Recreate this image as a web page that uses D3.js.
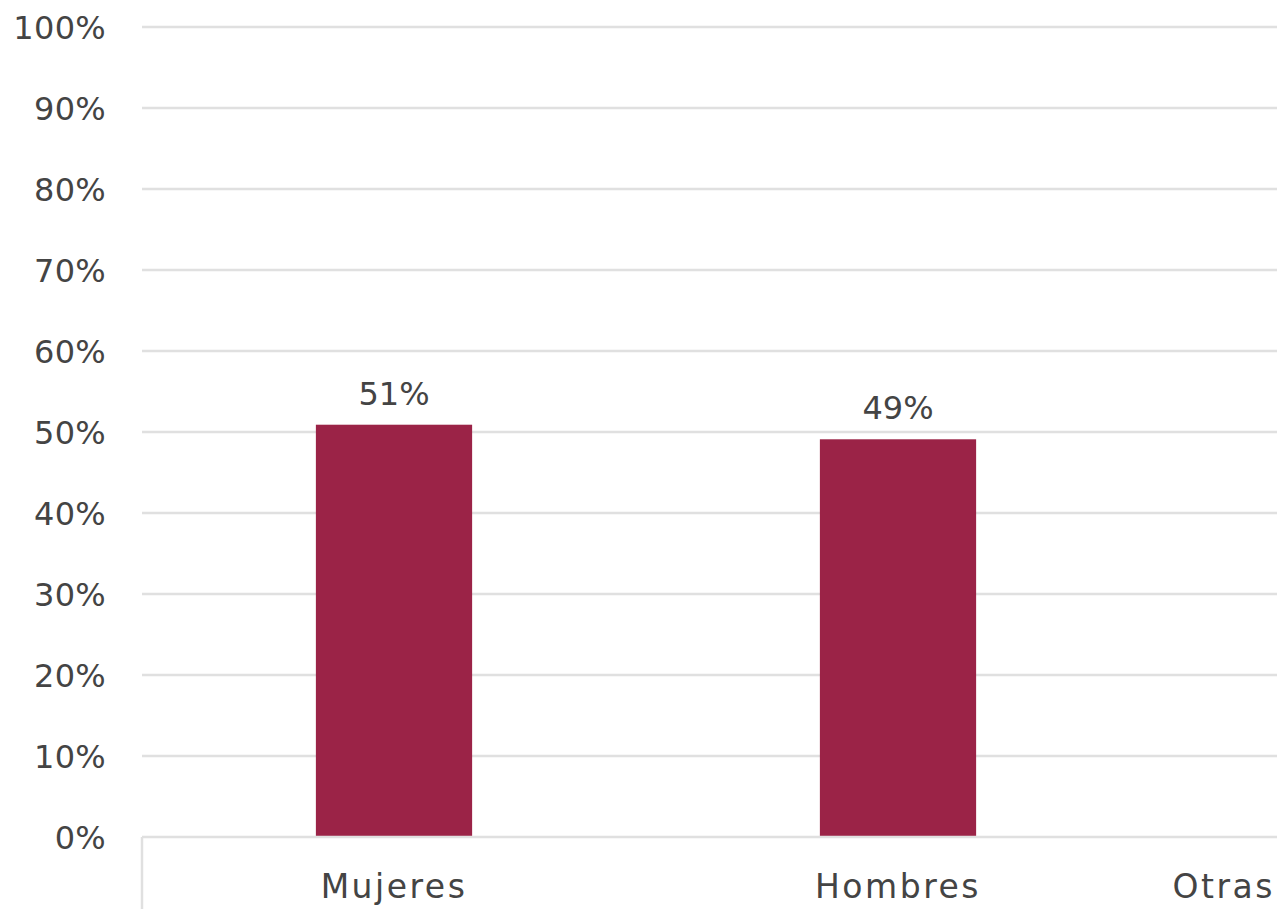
<!DOCTYPE html>
<html><head><meta charset="utf-8">
<script src="https://cdn.jsdelivr.net/npm/d3@7"></script>
<style>html,body{margin:0;padding:0;background:#fff;overflow:hidden}svg{display:block}</style>
</head><body>
<script>
const categories = ["Mujeres", "Hombres", "Otras"];
const values = [0.509, 0.491, 0];
const valueLabels = ["51%", "49%", ""];
const yTicks = [0, 0.1, 0.2, 0.3, 0.4, 0.5, 0.6, 0.7, 0.8, 0.9, 1];

const W = 1277, H = 909;
const font = "'DejaVu Sans', sans-serif";
const textColor = "#444";
const svg = d3.select("body").append("svg").attr("width", W).attr("height", H);

const x = d3.scaleBand().domain(categories).range([142, 142 + 3 * 504]).paddingInner(0.69).paddingOuter(0.345);
const y = d3.scaleLinear().domain([0, 1]).range([837, 27]);

// gridlines
svg.append("g").selectAll("line").data(yTicks.filter(d => d > 0)).join("line")
  .attr("x1", 142).attr("x2", W).attr("y1", d => y(d)).attr("y2", d => y(d))
  .attr("stroke", "#e0e0e0").attr("stroke-width", 2.5);

// y axis labels
const yAxis = d3.axisLeft(y).tickValues(yTicks).tickFormat(d3.format(".0%")).tickSize(0).tickPadding(0);
const ga = svg.append("g").attr("transform", "translate(106,0)").call(yAxis);
ga.select(".domain").remove();
ga.selectAll("text").attr("font-family", font).attr("font-size", 32).attr("letter-spacing", 0.3)
  .attr("fill", textColor).attr("dy", "0.35em");

// bars
svg.append("g").selectAll("rect").data(values).join("rect")
  .attr("x", (d, i) => x(categories[i])).attr("width", x.bandwidth())
  .attr("y", d => y(d)).attr("height", d => y(0) - y(d))
  .attr("fill", "#9b2347");

// value labels
svg.append("g").selectAll("text").data(values).join("text")
  .attr("x", (d, i) => x(categories[i]) + x.bandwidth() / 2)
  .attr("y", d => y(d) - 20)
  .attr("text-anchor", "middle").attr("font-family", font).attr("font-size", 32).attr("fill", textColor)
  .text((d, i) => valueLabels[i]);

// x axis line + left edge
svg.append("line").attr("x1", 142).attr("x2", W).attr("y1", 837).attr("y2", 837).attr("stroke", "#e0e0e0").attr("stroke-width", 2.5);
svg.append("line").attr("x1", 142).attr("x2", 142).attr("y1", 837).attr("y2", H).attr("stroke", "#e0e0e0").attr("stroke-width", 2.5);

// category labels
svg.append("g").selectAll("text").data(categories).join("text")
  .attr("font-family", font).attr("font-size", 33).attr("letter-spacing", 2.5).attr("fill", textColor)
  .attr("y", 898)
  .text(d => d)
  .each(function(d) {
    const tw = this.getComputedTextLength();
    const c = x(d) + x.bandwidth() / 2;
    let left = c - tw / 2;
    if (left + tw > W) left = Math.min(1177, W - tw - 2);
    d3.select(this).attr("x", left);
  });
</script>
</body></html>
